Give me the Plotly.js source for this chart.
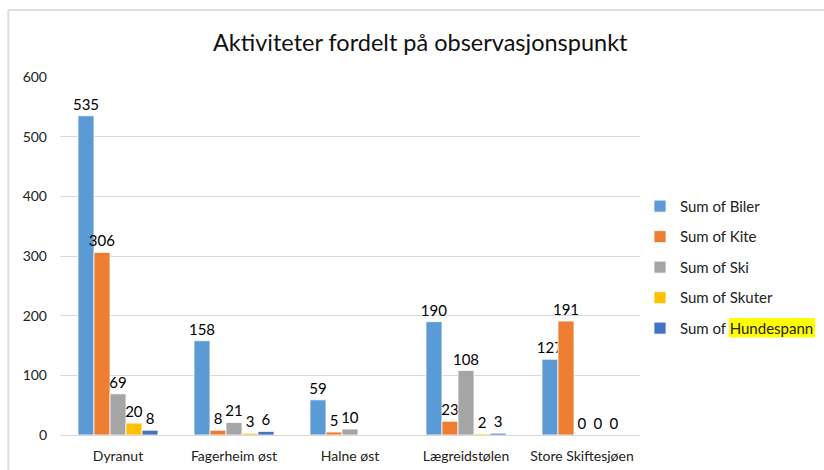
<!DOCTYPE html>
<html>
<head>
<meta charset="utf-8">
<script src="https://cdn.plot.ly/plotly-3.0.1.min.js"></script>
<style>html,body{margin:0;padding:0;background:#fff;}#chart{width:824px;height:470px;}</style>
</head>
<body>
<div id="chart"></div>
<script>
const categories = ["Dyranut", "Fagerheim øst", "Halne øst", "Lægreidstølen", "Store Skiftesjøen"];
const seriesNames = ["Sum of Biler", "Sum of Kite", "Sum of Ski", "Sum of Skuter", "Sum of Hundespann"];
const biler = [535, 158, 59, 190, 127];
const kite = [306, 8, 5, 23, 191];
const ski = [69, 21, 10, 108, 0];
const skuter = [20, 3, null, 2, 0];
const hundespann = [8, 6, null, 3, 0];
const yTicks = [0, 100, 200, 300, 400, 500, 600];

const colors = ["#5B9BD5", "#ED7D31", "#A5A5A5", "#FFC000", "#4472C4"];
const values = [biler, kite, ski, skuter, hundespann];
const font = "Lato, 'Open Sans', sans-serif";

const traces = values.map((v, i) => ({
  type: "bar",
  name: seriesNames[i],
  x: categories,
  y: v,
  text: v.map(d => d === null ? "" : String(d)),
  textposition: "outside",
  constraintext: "none",
  cliponaxis: false,
  textfont: {family: font, size: 15, color: "#000"},
  marker: {color: colors[i], line: {color: "#fff", width: 0.8}},
  legendgroup: "g" + i,
  hoverinfo: "x+y+name"
}));

const layout = {
  width: 824, height: 470,
  margin: {l: 60, r: 184, t: 77, b: 35, autoexpand: false},
  paper_bgcolor: "#fff", plot_bgcolor: "#fff",
  barmode: "group", bargap: 0.31, bargroupgap: 0,
  title: {text: "Aktiviteter fordelt på observasjonspunkt", x: 0.51, xanchor: "center", y: 0.91, yanchor: "middle",
          font: {family: font, size: 23.5, color: "#111"}},
  font: {family: font, color: "#222"},
  xaxis: {type: "category", showgrid: false, zeroline: false, showline: false, ticks: "",
          ticklabelstandoff: 11, tickfont: {family: font, size: 14, color: "#222"}, fixedrange: true},
  yaxis: {range: [0, 600], tickvals: yTicks, ticktext: yTicks.map(String), showgrid: true, gridcolor: "#d9d9d9",
          gridwidth: 1, zeroline: true, zerolinecolor: "#d9d9d9", zerolinewidth: 1, showline: false, ticks: "",
          ticklabelstandoff: 12, tickfont: {family: font, size: 14, color: "#222"}, fixedrange: true},
  legend: {xref: "container", yref: "container", x: 0.7767, xanchor: "left", y: 0.596, yanchor: "top",
           traceorder: "grouped", tracegroupgap: 8,
           font: {family: font, size: 15, color: "#222"}, itemwidth: 30, bgcolor: "rgba(0,0,0,0)"},
  shapes: [
    {type: "rect", xref: "paper", yref: "paper", x0: 1.153, x1: 1.302, y0: 0.272, y1: 0.327, fillcolor: "#FFFF00", line: {width: 0}, layer: "above"},
    {type: "line", xref: "paper", yref: "paper", x0: -0.089, x1: 1.35, y0: 1.187, y1: 1.187, line: {color: "#dddddd", width: 2}},
    {type: "line", xref: "paper", yref: "paper", x0: -0.089, x1: -0.089, y0: -0.1, y1: 1.187, line: {color: "#dddddd", width: 2}}
  ],
  showlegend: true
};

Plotly.newPlot("chart", traces, layout, {displayModeBar: false, staticPlot: true});
</script>
</body>
</html>
